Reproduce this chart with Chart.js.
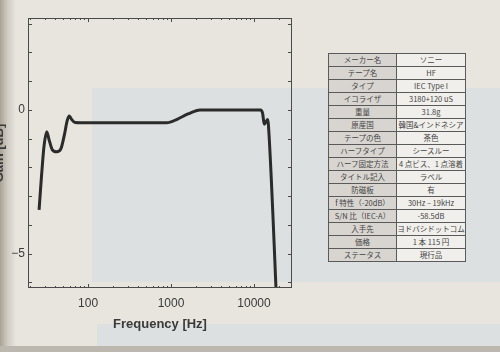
<!DOCTYPE html>
<html>
<head>
<meta charset="utf-8">
<script src="https://cdn.jsdelivr.net/npm/chart.js@4/dist/chart.umd.min.js"></script>
<style>
  html, body { margin:0; padding:0; }
  body { width:500px; height:352px; overflow:hidden; position:relative;
         background:#e8e5df; font-family:"Liberation Sans", Arial, sans-serif; }
  .spine { position:absolute; left:0; top:0; width:16px; height:352px;
           background:linear-gradient(to right,#a7a196 0%,#cfcac1 45%,#e8e5df 100%); }
  .blue1 { position:absolute; left:92px; top:88px; width:408px; height:194px; background:#dde0e1; }
  .blue2 { position:absolute; left:97px; top:324px; width:403px; height:22px; background:#dde0e1; }
  .bottomband { position:absolute; left:0; top:346px; width:500px; height:6px; background:#bdb8af; }
  #wrap { position:absolute; left:-9px; top:0; width:319px; height:352px; }
  table.spec { position:absolute; left:328px; top:53px; border-collapse:collapse;
               font-family:"Noto Sans CJK JP", sans-serif; font-size:7.5px; color:#444; }
  table.spec td { border:1px solid #5a5a5a; height:12px; padding:0; text-align:center;
                  line-height:12px; white-space:nowrap; }
  table.spec td.k { width:67px; background:#d8d5d1; }
  table.spec td.v { width:68px; background:#f0efeb; }
</style>
</head>
<body>
<div class="spine"></div>
<div class="blue1"></div>
<div class="blue2"></div>
<div class="bottomband"></div>
<div id="wrap"><canvas id="c" width="319" height="352"></canvas></div>
<table class="spec" id="spec"></table>
<script>
// ---- data ----
const freqHz = [25.7, 27.5, 29.5, 31.8, 34, 37, 42, 47, 52, 56, 59.5, 63, 69.7, 100, 400, 887, 1200, 1600, 2240, 5000, 12000, 12700, 13300, 14000, 14600, 15200, 19300];
const gainDb = [-3.48, -2.3, -1.25, -0.76, -1.05, -1.38, -1.46, -1.36, -0.85, -0.38, -0.21, -0.32, -0.44, -0.45, -0.45, -0.45, -0.32, -0.14, 0, 0, 0, -0.12, -0.5, -0.4, -0.33, -0.9, -7.6];
const xTickValues = [20,30,40,50,60,70,80,90,100,200,300,400,500,600,700,800,900,1000,2000,3000,4000,5000,6000,7000,8000,9000,10000,20000];
const xTickLabels = ['100','1000','10000'];
const yTickLabels = ['0','\u22125'];
const tableLabels = ['メーカー名','テープ名','タイプ','イコライザ','重量','原産国','テープの色','ハーフタイプ','ハーフ固定方法','タイトル記入','防磁板','f 特性（-20dB）','S/N 比（IEC-A）','入手先','価格','ステータス'];
const tableValues = ['ソニー','HF','IEC Type I','3180+120 uS','31.8g','韓国&インドネシア','茶色','シースルー','4 点ビス、1 点溶着','ラベル','有','30Hz – 19kHz','-58.5dB','ヨドバシドットコム','1 本 115 円','現行品'];

// ---- table ----
const tbl = document.getElementById('spec');
tableLabels.forEach((k, i) => {
  const tr = document.createElement('tr');
  const a = document.createElement('td'); a.className = 'k'; a.textContent = k;
  const b = document.createElement('td'); b.className = 'v'; b.textContent = tableValues[i];
  tr.appendChild(a); tr.appendChild(b); tbl.appendChild(tr);
});

// ---- inward tick marks & frame ----
const frameTicks = {
  id: 'frameTicks',
  afterDatasetsDraw(chart) {
    const {ctx, chartArea: a, scales: {x, y}} = chart;
    ctx.save();
    ctx.strokeStyle = '#4a4a4a';
    ctx.lineWidth = 1;
    ctx.strokeRect(a.left + 0.5, a.top + 0.5, a.right - a.left - 1, a.bottom - a.top - 1);
    ctx.beginPath();
    x.ticks.forEach(t => {
      const px = Math.round(x.getPixelForValue(t.value)) + 0.5;
      const major = xTickLabels.includes(String(t.value));
      const len = major ? 4 : 2;
      ctx.moveTo(px, a.bottom); ctx.lineTo(px, a.bottom - len);
      ctx.moveTo(px, a.top); ctx.lineTo(px, a.top + len);
    });
    y.ticks.forEach(t => {
      const py = Math.round(y.getPixelForValue(t.value)) + 0.5;
      ctx.moveTo(a.left, py); ctx.lineTo(a.left + 4, py);
      ctx.moveTo(a.right, py); ctx.lineTo(a.right - 4, py);
    });
    ctx.stroke();
    ctx.restore();
  }
};

new Chart(document.getElementById('c'), {
  type: 'line',
  data: {
    datasets: [{
      data: freqHz.map((f, i) => ({x: f, y: gainDb[i]})),
      borderColor: '#2b2b2b',
      borderWidth: 3,
      pointRadius: 0,
      cubicInterpolationMode: 'monotone',
      fill: false
    }]
  },
  plugins: [frameTicks],
  options: {
    responsive: false,
    animation: false,
    layout: { padding: { top: 18, right: 18, bottom: 0, left: 0 } },
    plugins: { legend: { display: false }, tooltip: { enabled: false } },
    scales: {
      x: {
        type: 'logarithmic',
        min: 18.9, max: 28700,
        afterBuildTicks(s) { s.ticks = xTickValues.map(v => ({value: v})); },
        afterFit(s) { s.height = 64; },
        grid: { display: false, drawTicks: false },
        border: { display: false },
        ticks: {
          autoSkip: false, maxRotation: 0, padding: 8, color: '#3a3a3a',
          font: { family: 'Liberation Sans', size: 12 },
          callback(v) { const s = String(v); return xTickLabels.includes(s) ? s : ''; }
        },
        title: { display: true, text: 'Frequency [Hz]', color: '#3a3a3a',
                 font: { family: 'Liberation Sans', size: 13, weight: 'bold' },
                 padding: { top: 4, bottom: 20 } }
      },
      y: {
        min: -6.2, max: 3.2,
        afterBuildTicks(s) { const t = []; for (let v = 3; v >= -6; v--) t.push({value: v}); s.ticks = t; },
        afterFit(s) { s.width = 37; },
        grid: { display: false, drawTicks: false },
        border: { display: false },
        ticks: {
          padding: 3, color: '#3a3a3a',
          font: { family: 'Liberation Sans', size: 12 },
          callback(v) { const s = v < 0 ? '\u2212' + Math.abs(v) : String(v); return yTickLabels.includes(s) ? s : ''; }
        },
        title: { display: true, text: 'Gain [dB]', color: '#3a3a3a',
                 font: { family: 'Liberation Sans', size: 13, weight: 'bold' },
                 padding: { top: 1, bottom: 0 } }
      }
    }
  }
});
</script>
</body>
</html>
